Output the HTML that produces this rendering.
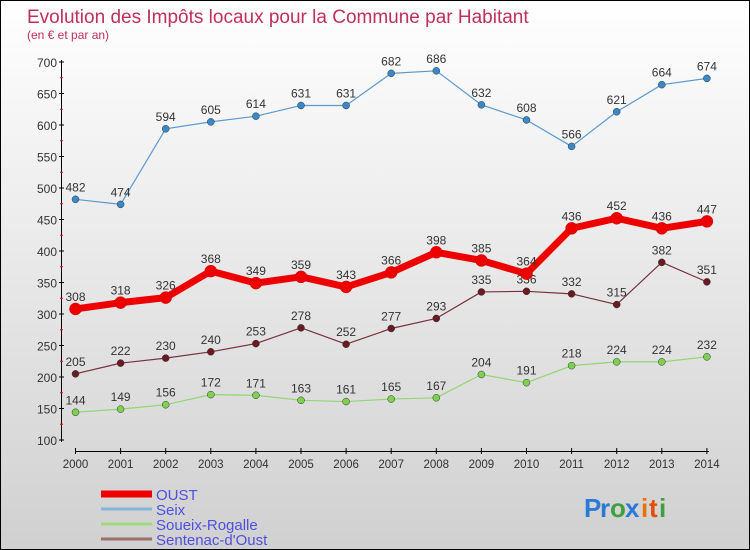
<!DOCTYPE html>
<html><head><meta charset="utf-8"><style>
body{margin:0}
#c{width:748px;height:548px;border:1px solid #000;background:linear-gradient(#ffffff,#d0d0d0);position:relative;overflow:hidden;font-family:"Liberation Sans",sans-serif}
</style></head><body>
<div id="c">
<svg id="s" width="748" height="548"></svg>
</div>
<script>
const years=[2000,2001,2002,2003,2004,2005,2006,2007,2008,2009,2010,2011,2012,2013,2014];
const oust=[308,318,326,368,349,359,343,366,398,385,364,436,452,436,447];
const seix=[482,474,594,605,614,631,631,682,686,632,608,566,621,664,674];
const soueix=[144,149,156,172,171,163,161,165,167,204,191,218,224,224,232];
const sentenac=[205,222,230,240,253,278,252,277,293,335,336,332,315,382,351];
const yTicks=[100,150,200,250,300,350,400,450,500,550,600,650,700];
const NS="http://www.w3.org/2000/svg";
const s=document.getElementById('s');
const X=i=>74.5+i*45.1;
const Y=v=>439-(v-100)*0.63;
function el(t,a,p){const e=document.createElementNS(NS,t);for(const k in a)e.setAttribute(k,a[k]);(p||s).appendChild(e);return e;}
let t=el('text',{x:26,y:22,fill:'#c0305a','font-size':19});t.textContent='Evolution des Impôts locaux pour la Commune par Habitant';


t=el('text',{x:26,y:38,fill:'#c0305a','font-size':12});t.textContent='(en € et par an)';


// axes
let a=el('line',{x1:60.5,y1:59,x2:60.5,y2:441,stroke:'#000'});


a=el('line',{x1:74,y1:450.5,x2:708,y2:450.5,stroke:'#000'});


yTicks.forEach((v,i)=>{
  el('line',{x1:58,y1:Y(v),x2:63,y2:Y(v),stroke:'#000'});
  if(i<yTicks.length-1)el('line',{x1:59,y1:Y(v+25),x2:62,y2:Y(v+25),stroke:'#f00'});
  const l=el('text',{x:56,y:Y(v)+5,'text-anchor':'end','font-size':12,fill:'#333'});l.textContent=v;
  
  
});
years.forEach((y,i)=>{
  el('line',{x1:X(i),y1:447,x2:X(i),y2:453,stroke:'#000'});
  const l=el('text',{x:X(i),y:467,'text-anchor':'middle','font-size':11.5,fill:'#333'});l.textContent=y;
  
  
});
function series(d,color,w,r,fill,name){
  const g=el('g',{});
  
  
  el('polyline',{points:d.map((v,i)=>X(i)+','+Y(v)).join(' '),fill:'none',stroke:color,'stroke-width':w,'stroke-linejoin':'round'},g);
  d.forEach((v,i)=>{
    const c=el('circle',{cx:X(i),cy:Y(v),r:r,fill:fill,stroke:color==='#e00'?'#c00':'#333','stroke-width':0.5},g);
    
    
    const l=el('text',{x:X(i),y:Y(v)-8,'text-anchor':'middle','font-size':12,fill:'#333'},g);l.textContent=v;
    
    
  });
}
series(seix,'#5a9ad0',1.2,3.5,'#3a88c8','seix');
series(soueix,'#90d870',1.2,3.5,'#80d050','soueix-rogalle');
series(sentenac,'#7a3040',1.2,3.5,'#6a1a22','sentenac-doust');
series(oust,'#e00',7,6,'#e00','oust');
const leg=[['OUST','#e00',7],['Seix','#88b4d8',3],['Soueix-Rogalle','#a0d880',3],['Sentenac-d\'Oust','#9a7070',3]];
leg.forEach((L,i)=>{
  const g=el('g',{});
  
  
  const y=493+i*15;
  el('line',{x1:100,y1:y,x2:151,y2:y,stroke:L[1],'stroke-width':L[2]},g);
  const tx=el('text',{x:155,y:y+6,'font-size':15,fill:'#5050e0'},g);tx.textContent=L[0];
});
const logo=el('g',{});


[['P','#2a7ad8'],['r','#2a7ad8'],['o','#40a040'],['x','#2a7ad8'],['i','#f07000'],['t','#e05000'],['i','#40a040']].forEach((c,i)=>{
  const tx=el('text',{x:583+[0,16,26,41,57,65,75][i],y:516,'font-size':26,'font-weight':'bold',fill:c[1]},logo);tx.textContent=c[0];
});
</script>
</body></html>
